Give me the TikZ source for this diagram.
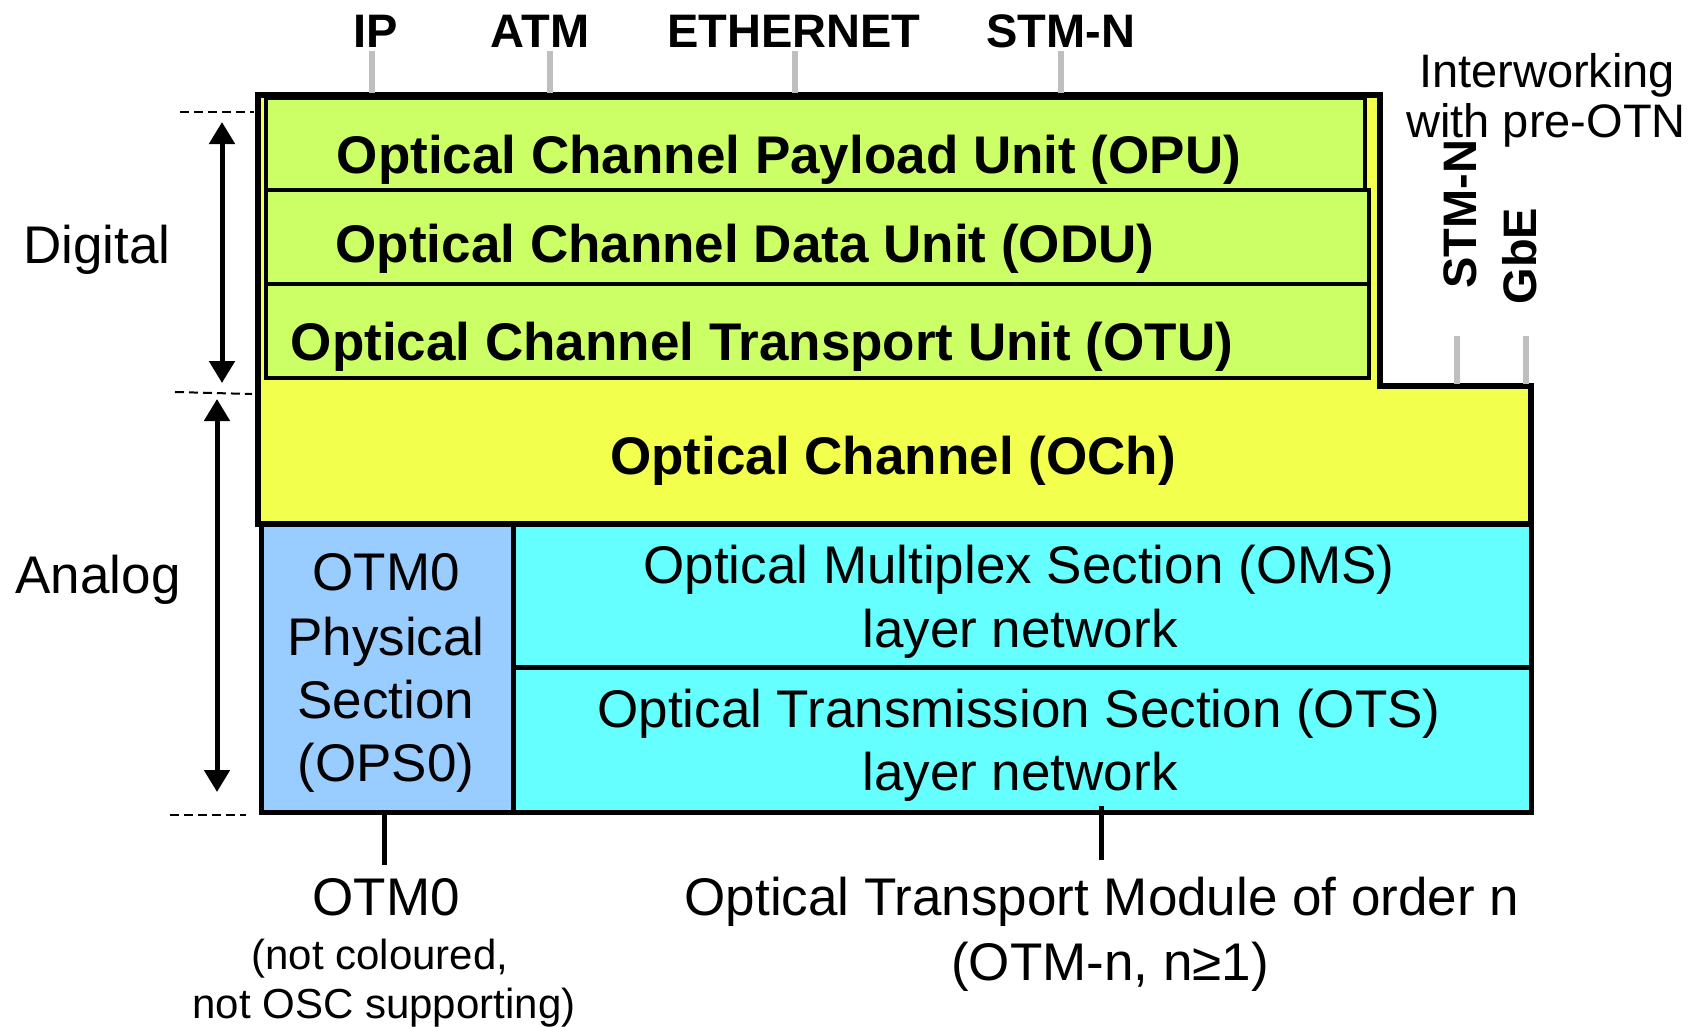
\documentclass[tikz,border=0pt]{standalone}
\usepackage{fontspec}
\setmainfont{Liberation Sans}
\usetikzlibrary{arrows.meta}
\definecolor{ochyellow}{RGB}{242,255,77}
\definecolor{unitgreen}{RGB}{204,255,102}
\definecolor{seccyan}{RGB}{102,255,255}
\definecolor{opsblue}{RGB}{153,204,255}
\definecolor{tickgray}{RGB}{191,191,191}
\begin{document}
\begin{tikzpicture}[x=1pt,y=-1pt,
  box/.style={draw=black, line width=5pt, inner sep=0pt, outer sep=0pt, anchor=north west},
  boldtxt/.style={font=\fontsize{53}{64}\selectfont\bfseries, anchor=base, inner sep=0pt},
  regtxt/.style={font=\fontsize{53}{64}\selectfont, anchor=base, inner sep=0pt},
  toptxt/.style={font=\fontsize{47}{56}\selectfont\bfseries, anchor=base, inner sep=0pt},
  sidetxt/.style={font=\fontsize{47}{56}\selectfont\bfseries, inner sep=0pt, rotate=90},
  smalltxt/.style={font=\fontsize{47}{56}\selectfont, anchor=base, inner sep=0pt},
  notetxt/.style={font=\fontsize{42}{50}\selectfont, anchor=base, inner sep=0pt},
  graytick/.style={draw=tickgray, line width=6pt},
  blacktick/.style={draw=black, line width=5pt},
  dimarrow/.style={line width=5pt, {Triangle[length=22pt,width=25pt]}-{Triangle[length=22pt,width=25pt]}},
  guide/.style={line width=2pt, dash pattern=on 9pt off 5pt},
]
\useasboundingbox (0,0) rectangle (1697,1026);

% outer frame (OCh + digital part)
\draw[line width=5.5pt, fill=ochyellow, line join=miter]
  (258,95) -- (1380,95) -- (1380,386) -- (1531,386) -- (1531,524) -- (258,524) -- cycle;

% digital units
\node[box, fill=unitgreen, line width=4.5pt, minimum width=1099pt, minimum height=92pt] (opu) at (266,98) {};
\node[box, fill=unitgreen, line width=4.5pt, minimum width=1103pt, minimum height=94pt] (odu) at (266,190) {};
\node[box, fill=unitgreen, line width=4.5pt, minimum width=1103pt, minimum height=94pt] (otu) at (266,284) {};

% analog sections
\node[box, fill=opsblue, minimum width=252pt, minimum height=288pt] (otm0box) at (261,524) {};
\node[box, fill=seccyan, minimum width=1018pt, minimum height=143pt] (oms) at (513,524) {};
\node[box, fill=seccyan, minimum width=1018pt, minimum height=145pt] (ots) at (513,667) {};

% texts in boxes
\node[boldtxt] (opuT) at (789,173) {Optical Channel Payload Unit (OPU)};
\node[boldtxt] (oduT) at (745,262) {Optical Channel Data Unit (ODU)};
\node[boldtxt] (otuT) at (762,360) {Optical Channel Transport Unit (OTU)};
\node[boldtxt] (ochT) at (893,474) {Optical Channel (OCh)};
\node[regtxt] (omsT1) at (1019,583) {Optical Multiplex Section (OMS)};
\node[regtxt] (omsT2) at (1020,647) {layer network};
\node[regtxt] (otsT1) at (1019,727) {Optical Transmission Section (OTS)};
\node[regtxt] (otsT2) at (1020,790) {layer network};
\node[regtxt] (opsT1) at (386,590) {OTM0};
\node[regtxt] (opsT2) at (386,655) {Physical};
\node[regtxt] (opsT3) at (386,718) {Section};
\node[regtxt] (opsT4) at (386,781) {(OPS0)};

% top client labels
\node[toptxt] (ip) at (376,47) {IP};
\node[toptxt] (atm) at (540,47) {ATM};
\node[toptxt] (eth) at (794,47) {ETHERNET};
\node[toptxt] (stm) at (1061,47) {STM-N};
\coordinate (ipA) at (372,51);   \coordinate (ipB) at (372,93);
\coordinate (atmA) at (550,51);  \coordinate (atmB) at (550,93);
\coordinate (ethA) at (795,51);  \coordinate (ethB) at (795,93);
\coordinate (stmA) at (1061,51); \coordinate (stmB) at (1061,93);
\draw[graytick] (ipA) -- (ipB);
\draw[graytick] (atmA) -- (atmB);
\draw[graytick] (ethA) -- (ethB);
\draw[graytick] (stmA) -- (stmB);

% interworking
\node[smalltxt] (iw1) at (1547,87) {Interworking};
\node[smalltxt] (iw2) at (1546,137) {with pre-OTN};
\node[sidetxt] (stm2) at (1460,214) {STM-N};
\node[sidetxt] (gbe) at (1520,256) {GbE};
\coordinate (stm2A) at (1457,336); \coordinate (stm2B) at (1457,384);
\coordinate (gbeA) at (1526,336);  \coordinate (gbeB) at (1526,384);
\draw[graytick] (stm2A) -- (stm2B);
\draw[graytick] (gbeA) -- (gbeB);

% left: digital / analog
\node[regtxt] (digital) at (97,263) {Digital};
\node[regtxt] (analog) at (98,593) {Analog};
\coordinate (dTop) at (222,122); \coordinate (dBot) at (222,383);
\coordinate (aTop) at (217,399); \coordinate (aBot) at (217,792);
\draw[dimarrow] (dTop) -- (dBot);
\draw[dimarrow] (aTop) -- (aBot);
\coordinate (g1a) at (180,112); \coordinate (g1b) at (254,112);
\coordinate (g2a) at (175,392); \coordinate (g2b) at (252,394);
\coordinate (g3a) at (170,815); \coordinate (g3b) at (246,815);
\draw[guide] (g1a) -- (g1b);
\draw[guide] (g2a) -- (g2b);
\draw[guide] (g3a) -- (g3b);

% bottom labels
\coordinate (t0a) at (384,812); \coordinate (t0b) at (384,865);
\coordinate (tna) at (1101,806); \coordinate (tnb) at (1101,860);
\draw[blacktick] (t0a) -- (t0b);
\draw[blacktick] (tna) -- (tnb);
\node[regtxt] (otm0) at (386,915) {OTM0};
\node[notetxt] (otm0n1) at (380,969) {(not coloured,};
\node[notetxt] (otm0n2) at (384,1018) {not OSC supporting)};
\node[regtxt] (otmn1) at (1102,915) {Optical Transport Module of order n};
\node[regtxt] (otmn2) at (1110,980) {(OTM-n, n≥1)};
\end{tikzpicture}
\end{document}
